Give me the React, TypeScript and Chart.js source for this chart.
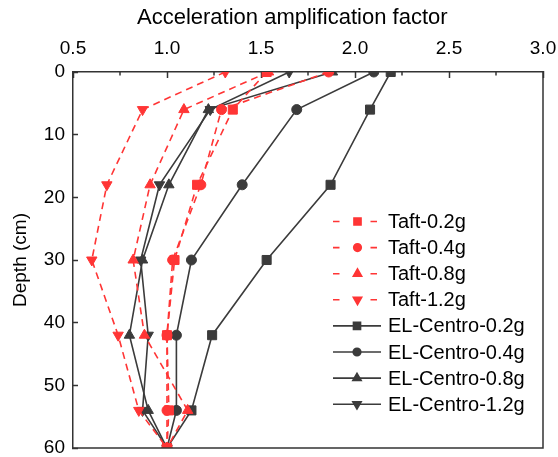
import React, { useEffect, useRef } from 'react';
import { Chart, registerables } from 'chart.js';
import { drawPoint } from 'chart.js/helpers';

Chart.register(...registerables);

const depths = [0, 6, 18, 30, 42, 54, 60];
const taft02 = [1.53, 1.35, 1.16, 1.04, 1.0, 1.01, 1.0];
const taft04 = [1.86, 1.29, 1.18, 1.03, 1.0, 1.0, 1.0];
const taft08 = [1.54, 1.09, 0.91, 0.82, 0.88, 1.11, 1.0];
const taft12 = [1.31, 0.87, 0.68, 0.6, 0.74, 0.85, 1.0];
const elc02 = [2.19, 2.08, 1.87, 1.53, 1.24, 1.13, 1.0];
const elc04 = [2.1, 1.69, 1.4, 1.13, 1.05, 1.05, 1.0];
const elc08 = [1.88, 1.22, 1.01, 0.87, 0.8, 0.9, 1.0];
const elc12 = [1.65, 1.23, 0.96, 0.86, 0.9, 0.87, 1.0];

const seriesNames = [
  'Taft-0.2g', 'Taft-0.4g', 'Taft-0.8g', 'Taft-1.2g',
  'EL-Centro-0.2g', 'EL-Centro-0.4g', 'EL-Centro-0.8g', 'EL-Centro-1.2g',
];
const seriesValues = [taft02, taft04, taft08, taft12, elc02, elc04, elc08, elc12];

const xTitle = 'Acceleration amplification factor';
const yTitle = 'Depth (cm)';
const xMin = 0.5;
const xMax = 3.0;
const xStep = 0.5;
const xMinorTicks = [0.75, 1.25, 1.75, 2.25, 2.75];
const yMin = 0;
const yMax = 60;
const yStep = 10;

const RED = '#ff3535';
const DARK = '#3b3b3b';
const AXIS = '#333333';
const FONT = "'Liberation Sans', Arial, sans-serif";

const shapes = [
  { style: 'rect', rot: 0, r: 6.4, lr: 5 },
  { style: 'circle', rot: 0, r: 5, lr: 3.8 },
  { style: 'triangle', rot: 0, r: 6, lr: 4.8 },
  { style: 'triangle', rot: 180, r: 6, lr: 4.8 },
];

const framePlugin = {
  id: 'frameAndMinor',
  afterDraw(chart: any) {
    const { ctx, chartArea } = chart;
    const xs = chart.scales.x;
    ctx.save();
    ctx.strokeStyle = AXIS;
    ctx.lineWidth = 1.5;
    ctx.beginPath();
    ctx.moveTo(chartArea.left, chartArea.bottom);
    ctx.lineTo(chartArea.right, chartArea.bottom);
    ctx.lineTo(chartArea.right, chartArea.top);
    ctx.stroke();
    xMinorTicks.forEach((v) => {
      const px = xs.getPixelForValue(v);
      ctx.beginPath();
      ctx.moveTo(px, chartArea.top);
      ctx.lineTo(px, chartArea.top + 3.5);
      ctx.stroke();
    });
    // top axis title
    ctx.fillStyle = '#000';
    ctx.font = `22px ${FONT}`;
    ctx.textAlign = 'left';
    ctx.textBaseline = 'middle';
    ctx.fillText(xTitle, 137, 18);
    ctx.restore();
  },
};

const legendPlugin = {
  id: 'insideLegend',
  afterDraw(chart: any) {
    const { ctx } = chart;
    const x0 = 333;
    const x1 = 381;
    const textX = 388;
    const startY = 221.5;
    const rowH = 26.1;
    ctx.save();
    chart.data.datasets.forEach((ds: any, i: number) => {
      const y = startY + i * rowH;
      const isTaft = i < 4;
      const sh = shapes[i % 4];
      ctx.strokeStyle = ds.borderColor;
      ctx.fillStyle = ds.backgroundColor;
      ctx.lineWidth = 1.6;
      ctx.setLineDash([]);
      ctx.beginPath();
      if (isTaft) {
        ctx.moveTo(x0, y);
        ctx.lineTo(x0 + 6.5, y);
        ctx.moveTo(x1 - 10.5, y);
        ctx.lineTo(x1 - 4, y);
      } else {
        ctx.moveTo(x0, y);
        ctx.lineTo(x1, y);
      }
      ctx.stroke();
      drawPoint(ctx, { pointStyle: sh.style, rotation: sh.rot, radius: sh.lr, borderWidth: 1 } as any, (x0 + x1) / 2 + (isTaft ? 0.5 : 0), y);
      ctx.fillStyle = '#000';
      ctx.font = `20px ${FONT}`;
      ctx.textAlign = 'left';
      ctx.textBaseline = 'middle';
      ctx.fillText(seriesNames[i], textX, y + 1);
    });
    ctx.restore();
  },
};

export default function App() {
  const canvasRef = useRef<HTMLCanvasElement | null>(null);

  useEffect(() => {
    if (!canvasRef.current) return;
    const datasets = seriesValues.map((vals, i) => {
      const isTaft = i < 4;
      const sh = shapes[i % 4];
      const color = isTaft ? RED : DARK;
      return {
        label: seriesNames[i],
        data: vals.map((v, j) => ({ x: v, y: depths[j] })),
        borderColor: color,
        backgroundColor: color,
        borderWidth: 1.6,
        borderDash: isTaft ? [7, 5] : [],
        pointStyle: sh.style,
        pointRotation: sh.rot,
        pointRadius: sh.r,
        pointBorderWidth: 1,
        pointBackgroundColor: color,
        pointBorderColor: color,
        fill: false,
        tension: 0,
      };
    });

    const chart = new Chart(canvasRef.current, {
      type: 'line',
      data: { datasets },
      options: {
        animation: false,
        responsive: true,
        maintainAspectRatio: false,
        layout: { padding: { left: 0, right: 15, top: 0, bottom: 9 } },
        plugins: { legend: { display: false }, tooltip: { enabled: false } },
        scales: {
          x: {
            type: 'linear',
            position: 'top',
            min: xMin,
            max: xMax,
            afterFit: (s: any) => { s.height = 72; s.paddingLeft = 0; s.paddingRight = 0; },
            ticks: {
              stepSize: xStep,
              padding: 18,
              color: '#000',
              font: { family: FONT, size: 19 },
              callback: (v: any) => Number(v).toFixed(1),
            },
            grid: {
              display: true,
              drawOnChartArea: false,
              drawTicks: true,
              tickLength: -6,
              tickColor: AXIS,
              tickWidth: 1.5,
            },
            border: { display: true, color: AXIS, width: 1.5 },
            title: { display: false, text: xTitle },
          },
          y: {
            type: 'linear',
            position: 'left',
            min: yMin,
            max: yMax,
            reverse: true,
            afterFit: (s: any) => { s.width = 73; s.paddingTop = 0; s.paddingBottom = 0; },
            ticks: {
              stepSize: yStep,
              padding: 13,
              color: '#000',
              font: { family: FONT, size: 19 },
            },
            grid: {
              display: true,
              drawOnChartArea: false,
              drawTicks: true,
              tickLength: -5,
              tickColor: AXIS,
              tickWidth: 1.5,
            },
            border: { display: true, color: AXIS, width: 1.5 },
            title: {
              display: true,
              text: yTitle,
              color: '#000',
              font: { family: FONT, size: 19 },
              padding: { top: 9, bottom: 0 },
            },
          },
        },
      } as any,
      plugins: [framePlugin, legendPlugin],
    });
    return () => chart.destroy();
  }, []);

  return (
    <div style={{ position: 'absolute', left: 0, top: 0, width: 558, height: 457 }}>
      <canvas ref={canvasRef} />
    </div>
  );
}
